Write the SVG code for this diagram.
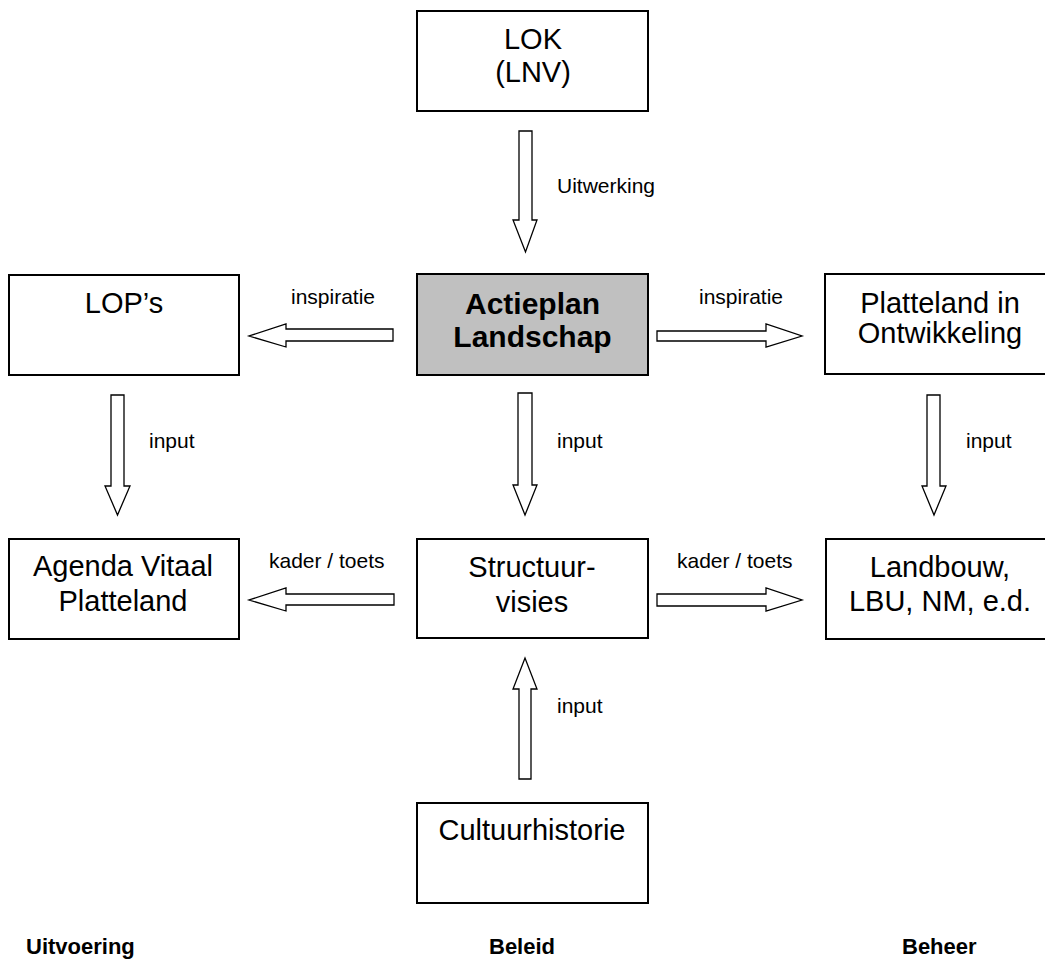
<svg xmlns="http://www.w3.org/2000/svg" width="1045" height="964" viewBox="0 0 1045 964">
<style>
.box{fill:#fff;stroke:#000;stroke-width:2}
.hl{fill:#c0c0c0;stroke:#000;stroke-width:2}
.t{font-family:"Liberation Sans",Arial,sans-serif;font-size:29px;fill:#000;text-anchor:middle}
.tb{font-family:"Liberation Sans",Arial,sans-serif;font-size:30px;font-weight:bold;fill:#000;text-anchor:middle}
.lbl{font-family:"Liberation Sans",Arial,sans-serif;font-size:21px;fill:#000}
.ft{font-family:"Liberation Sans",Arial,sans-serif;font-size:22px;font-weight:bold;fill:#000}
.arr{fill:#fff;stroke:#000;stroke-width:1.3;stroke-linejoin:miter}
</style>
<rect width="1045" height="964" fill="#fff"/>
<g id="lok"><rect class="box" x="417" y="11" width="231" height="100"/><text class="t" x="533" y="49">LOK</text><text class="t" x="533" y="82">(LNV)</text></g>
<g id="lops"><rect class="box" x="9" y="275" width="230" height="100"/><text class="t" x="124" y="313">LOP’s</text></g>
<g id="actieplan"><rect class="hl" x="417" y="274" width="231" height="101"/><text class="tb" x="532.5" y="314">Actieplan</text><text class="tb" x="532.5" y="347">Landschap</text></g>
<g id="platteland"><rect class="box" x="825" y="274" width="240" height="100"/><text class="t" x="940" y="313">Platteland in</text><text class="t" x="940" y="343">Ontwikkeling</text></g>
<g id="agenda"><rect class="box" x="9" y="539" width="230" height="100"/><text class="t" x="123" y="576">Agenda Vitaal</text><text class="t" x="123" y="611">Platteland</text></g>
<g id="structuur"><rect class="box" x="417" y="539" width="231" height="99"/><text class="t" x="532" y="577">Structuur-</text><text class="t" x="532" y="612">visies</text></g>
<g id="landbouw"><rect class="box" x="826" y="539" width="240" height="100"/><text class="t" x="940" y="577">Landbouw,</text><text class="t" x="940" y="611">LBU, NM, e.d.</text></g>
<g id="cultuur"><rect class="box" x="417" y="803" width="231" height="100"/><text class="t" x="532" y="840">Cultuurhistorie</text></g>
<g id="connectors">
<polygon class="arr" points="519,131 532,131 532,220 537,220 525.5,252 513,220 519,220"/>
<text class="lbl" x="557" y="193">Uitwerking</text>
<polygon class="arr" points="393,329 393,341 286,341 286,347 249,336 286,324 286,329"/>
<text class="lbl" x="291" y="304">inspiratie</text>
<polygon class="arr" points="657,331 657,341 766,341 766,347 802,336 766,324 766,331"/>
<text class="lbl" x="699" y="304">inspiratie</text>
<polygon class="arr" points="111,395 124,395 124,486 130,486 117.5,515 105,486 111,486"/>
<text class="lbl" x="149" y="448">input</text>
<polygon class="arr" points="518,393 532,393 532,485 537,485 525,515 513,485 518,485"/>
<text class="lbl" x="557" y="448">input</text>
<polygon class="arr" points="927,395 940,395 940,486 946,486 934,515 922,486 927,486"/>
<text class="lbl" x="966" y="448">input</text>
<polygon class="arr" points="394,594 394,605 286,605 286,611 249,600 286,588 286,594"/>
<text class="lbl" x="269" y="568">kader / toets</text>
<polygon class="arr" points="657,594 657,606 766,606 766,611 802,600 766,588 766,594"/>
<text class="lbl" x="677" y="568">kader / toets</text>
<polygon class="arr" points="519,779 531,779 531,689 537,689 525,658 513,689 519,689"/>
<text class="lbl" x="557" y="713">input</text>
</g>
<g id="footer">
<text class="ft" x="26" y="954">Uitvoering</text>
<text class="ft" x="489" y="954">Beleid</text>
<text class="ft" x="902" y="954">Beheer</text>
</g>
</svg>
